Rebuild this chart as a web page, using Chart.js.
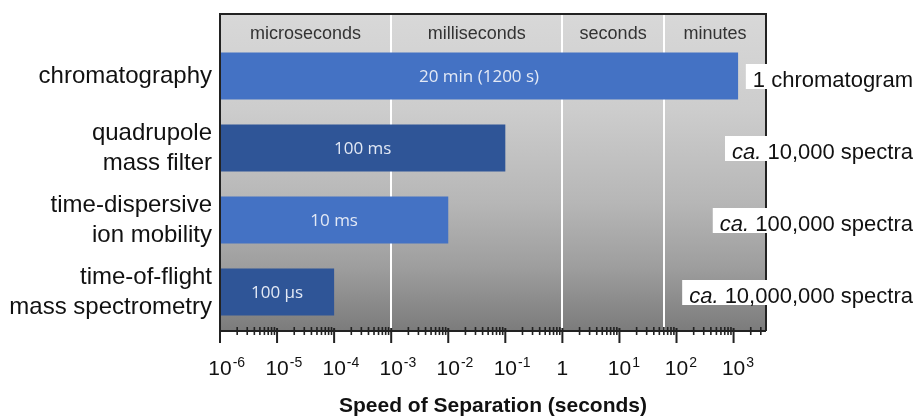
<!DOCTYPE html>
<html><head><meta charset="utf-8">
<script src="https://cdn.jsdelivr.net/npm/chart.js@4"></script>
<style>html,body{margin:0;padding:0;background:#fff}</style>
</head><body>
<canvas id="c" width="920" height="420"></canvas>
<script>
const categories = ['chromatography', ['quadrupole', 'mass filter'], ['time-dispersive', 'ion mobility'], ['time-of-flight', 'mass spectrometry']];
const durationsSec = [1200, 0.1, 0.01, 0.0001];
const barLabels = ['20 min (1200 s)', '100 ms', '10 ms', '100 µs'];
const barColors = ['#4472C4', '#2F5597', '#4472C4', '#2F5597'];
const outputPrefix = ['', 'ca.', 'ca.', 'ca.'];
const outputText = ['1 chromatogram', '10,000 spectra', '100,000 spectra', '10,000,000 spectra'];
const regionNames = ['microseconds', 'milliseconds', 'seconds', 'minutes'];
const regionBounds = [1e-6, 1e-3, 1, 60, 3700];
const tickExponents = [-6, -5, -4, -3, -2, -1, 0, 1, 2, 3];
const minorMultipliers = [2, 3, 4, 5, 6, 7, 8, 9];
const xMin = 1e-6, xMax = 3700;
const axisTitle = 'Speed of Separation (seconds)';

const FONT = "'Liberation Sans', Arial, sans-serif";

const decor = {
  id: 'decor',
  beforeDatasetsDraw(chart) {
    const {ctx, chartArea: a, scales: {x}} = chart;
    const top = 14, bottom = a.bottom + 2;
    ctx.save();
    const g = ctx.createLinearGradient(0, top, 0, bottom);
    g.addColorStop(0, '#d8d8d8');
    g.addColorStop(0.3, '#cdcdcd');
    g.addColorStop(0.6, '#b6b6b6');
    g.addColorStop(0.8, '#9e9e9e');
    g.addColorStop(1, '#7c7c7c');
    ctx.fillStyle = g;
    ctx.fillRect(a.left, top, a.right - a.left, bottom - top);
    ctx.fillStyle = '#ffffff';
    regionBounds.slice(1, -1).forEach(v => {
      const px = Math.round(x.getPixelForValue(v));
      ctx.fillRect(px - 1, top, 2, bottom - top);
    });
    ctx.fillStyle = '#333333';
    ctx.font = "18px " + FONT;
    ctx.textAlign = 'center';
    ctx.textBaseline = 'alphabetic';
    regionNames.forEach((n, i) => {
      const c = (x.getPixelForValue(regionBounds[i]) + x.getPixelForValue(regionBounds[i + 1])) / 2;
      ctx.fillText(n, c, 39);
    });
    ctx.restore();
  },
  afterDatasetsDraw(chart) {
    const {ctx, chartArea: a, scales: {x}} = chart;
    const meta = chart.getDatasetMeta(0);
    ctx.save();
    // bar labels
    ctx.font = "17px 'Open Sans', sans-serif";
    ctx.fillStyle = '#e3e9f5';
    ctx.textAlign = 'center';
    ctx.textBaseline = 'middle';
    meta.data.forEach((bar, i) => {
      ctx.fillText(barLabels[i], (bar.base + bar.x) / 2, bar.y + 1);
    });
    // frame
    const top = 14, axisY = a.bottom + 3;
    ctx.strokeStyle = '#222222';
    ctx.lineWidth = 2;
    ctx.beginPath();
    ctx.moveTo(a.left, axisY);
    ctx.lineTo(a.left, top);
    ctx.lineTo(a.right, top);
    ctx.lineTo(a.right, axisY);
    ctx.stroke();
    // axis line
    ctx.beginPath();
    ctx.moveTo(a.left, axisY);
    ctx.lineTo(a.right, axisY);
    ctx.stroke();
    // minor ticks
    ctx.lineWidth = 1.6;
    ctx.beginPath();
    tickExponents.forEach(e => {
      minorMultipliers.forEach(m => {
        const v = m * Math.pow(10, e);
        if (v < xMax) {
          const px = x.getPixelForValue(v);
          ctx.moveTo(px, axisY - 4);
          ctx.lineTo(px, axisY + 4);
        }
      });
    });
    ctx.stroke();
    // major ticks
    ctx.lineWidth = 2;
    ctx.beginPath();
    tickExponents.forEach(e => {
      const px = x.getPixelForValue(Math.pow(10, e));
      ctx.moveTo(px, axisY - 3);
      ctx.lineTo(px, axisY + 12);
    });
    ctx.stroke();
    // tick labels
    ctx.fillStyle = '#111111';
    ctx.textBaseline = 'alphabetic';
    tickExponents.forEach(e => {
      const px = x.getPixelForValue(Math.pow(10, e));
      ctx.font = "21px " + FONT;
      ctx.textAlign = 'center';
      if (e === 0) {
        ctx.fillText('1', px, 375);
      } else {
        ctx.fillText('10', px, 375);
        const w = ctx.measureText('10').width;
        ctx.font = "14px " + FONT;
        ctx.textAlign = 'left';
        ctx.fillText(String(e), px + w / 2 + 1, 367);
      }
    });
    // right output labels
    const rightEdge = 913;
    ctx.textAlign = 'left';
    meta.data.forEach((bar, i) => {
      const cy = bar.y;
      ctx.font = "22px " + FONT;
      const main = (outputPrefix[i] ? ' ' : '') + outputText[i];
      const wMain = ctx.measureText(main).width;
      let wPre = 0;
      if (outputPrefix[i]) {
        ctx.font = "italic 22px " + FONT;
        wPre = ctx.measureText(outputPrefix[i]).width;
      }
      const start = rightEdge - wMain - wPre;
      ctx.fillStyle = '#ffffff';
      ctx.fillRect(start - 7, cy - 12, rightEdge + 4 - (start - 7), 25);
      ctx.fillStyle = '#111111';
      if (outputPrefix[i]) {
        ctx.font = "italic 22px " + FONT;
        ctx.fillText(outputPrefix[i], start, cy + 11);
      }
      ctx.font = "22px " + FONT;
      ctx.fillText(main, start + wPre, cy + 11);
    });
    ctx.restore();
  }
};

new Chart(document.getElementById('c'), {
  type: 'bar',
  data: {
    labels: categories,
    datasets: [{
      data: durationsSec,
      backgroundColor: barColors,
      borderWidth: 0,
      base: xMin,
      categoryPercentage: 1,
      barPercentage: 0.65
    }]
  },
  options: {
    indexAxis: 'y',
    responsive: false,
    animation: false,
    devicePixelRatio: 1,
    layout: {padding: {left: 0, right: 154, top: 40, bottom: 0}},
    plugins: {legend: {display: false}, tooltip: {enabled: false}},
    scales: {
      x: {
        type: 'logarithmic',
        min: xMin,
        max: xMax,
        grid: {display: false, drawTicks: false},
        border: {display: false},
        ticks: {display: false},
        title: {
          display: true,
          text: axisTitle,
          color: '#111111',
          font: {family: FONT, size: 21, weight: 'bold', lineHeight: 1.2},
          padding: {top: 0, bottom: 1}
        },
        afterFit(s) { s.height = 92; }
      },
      y: {
        type: 'category',
        grid: {display: false, drawTicks: false},
        border: {display: false},
        ticks: {
          color: '#111111',
          padding: 8,
          font: {family: FONT, size: 24, lineHeight: 1.25}
        },
        afterFit(s) { s.width = 220; }
      }
    }
  },
  plugins: [decor]
});
</script>
</body></html>
